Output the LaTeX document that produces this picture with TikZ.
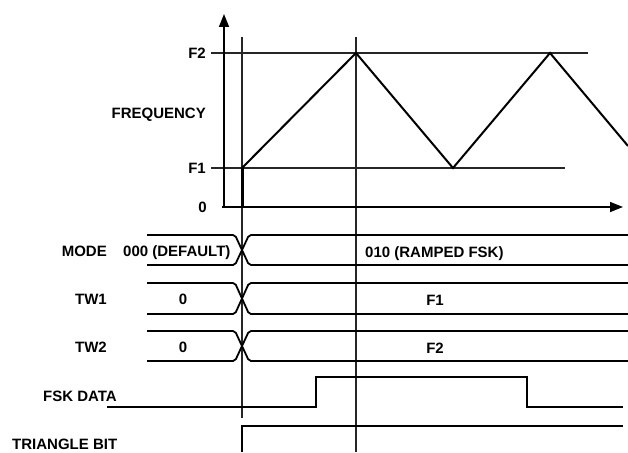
\documentclass[tikz,border=0pt]{standalone}
\usepackage{fontspec}
\setmainfont{Liberation Sans}
\usetikzlibrary{arrows.meta}
\begin{document}
\begin{tikzpicture}[x=1pt,y=-1pt,
  lbl/.style={font=\bfseries\fontsize{15}{15}\selectfont, inner sep=0pt, text height=10.7pt, text depth=0pt},
  grid/.style={line width=1.2pt, black!85},
  axis/.style={line width=1.5pt, -{Triangle[length=13pt,width=10pt]}},
  sig/.style={line width=2pt, line join=miter},
  bus/.style={line width=1.8pt, rounded corners=2pt}]
\useasboundingbox (0,0) rectangle (628,452);
% coordinates
\coordinate (f2a) at (211,53);  \coordinate (f2b) at (588,53);
\coordinate (f1a) at (211,168); \coordinate (f1b) at (565,168);
\coordinate (xa) at (222,207);  \coordinate (xb) at (623,207);
\coordinate (ya) at (224,207);  \coordinate (yb) at (224,14);
\coordinate (v1a) at (242,37);  \coordinate (v1b) at (242,418);
\coordinate (v2a) at (356,37);  \coordinate (v2b) at (356,452);
% grid and axes
\draw[grid] (f2a) -- (f2b);
\draw[grid] (f1a) -- (f1b);
\draw[grid] (v1a) -- (v1b);
\draw[grid] (v2a) -- (v2b);
\draw[axis] (xa) -- (xb);
\draw[axis] (ya) -- (yb);
% frequency curve
\coordinate (c0) at (242,207);
\coordinate (c1) at (242,168);
\coordinate (c2) at (356,53);
\coordinate (c3) at (453,168);
\coordinate (c4) at (550,53);
\coordinate (c5) at (628,146);
\draw[line width=3pt] (c0) -- (c1);
\draw[sig] (c1) -- (c2) -- (c3) -- (c4) -- (c5);
% labels of the plot
\node[lbl, anchor=east] (lf2) at (206,53) {F2};
\node[lbl, anchor=east] (lfreq) at (206,113) {FREQUENCY};
\node[lbl, anchor=east] (lf1) at (206,168) {F1};
\node[lbl, anchor=east] (l0) at (207,207) {0};
% buses
\foreach \t/\b in {235/265, 283/314, 331/361}{
  \draw[bus] (147,\t) -- (235,\t) -- (249,\b) -- (628,\b);
  \draw[bus] (147,\b) -- (235,\b) -- (249,\t) -- (628,\t);
}
% FSK data
\coordinate (d0) at (107,407); \coordinate (d1) at (316,407);
\coordinate (d2) at (316,377); \coordinate (d3) at (527,377);
\coordinate (d4) at (527,407); \coordinate (d5) at (623,407);
\draw[sig] (d0) -- (d1) -- (d2) -- (d3) -- (d4) -- (d5);
% triangle bit
\coordinate (t0) at (242,452); \coordinate (t1) at (242,426); \coordinate (t2) at (623,426);
\draw[sig] (t0) -- (t1) -- (t2);
% row labels
\node[lbl, anchor=east] (lmode) at (107,251) {MODE};
\node[lbl, anchor=west] (ldef) at (123,251) {000 (DEFAULT)};
\node[lbl, anchor=west] (lramp) at (365,252) {010 (RAMPED FSK)};
\node[lbl, anchor=east] (ltw1) at (107,299) {TW1};
\node[lbl] (ltw1a) at (183,299) {0};
\node[lbl] (ltw1b) at (435,300) {F1};
\node[lbl, anchor=east] (ltw2) at (107,347) {TW2};
\node[lbl] (ltw2a) at (183,347) {0};
\node[lbl] (ltw2b) at (435,348) {F2};
\node[lbl, anchor=west] (lfsk) at (43,396) {FSK DATA};
\node[lbl, anchor=west] (ltri) at (12,444) {TRIANGLE BIT};
\end{tikzpicture}
\end{document}
